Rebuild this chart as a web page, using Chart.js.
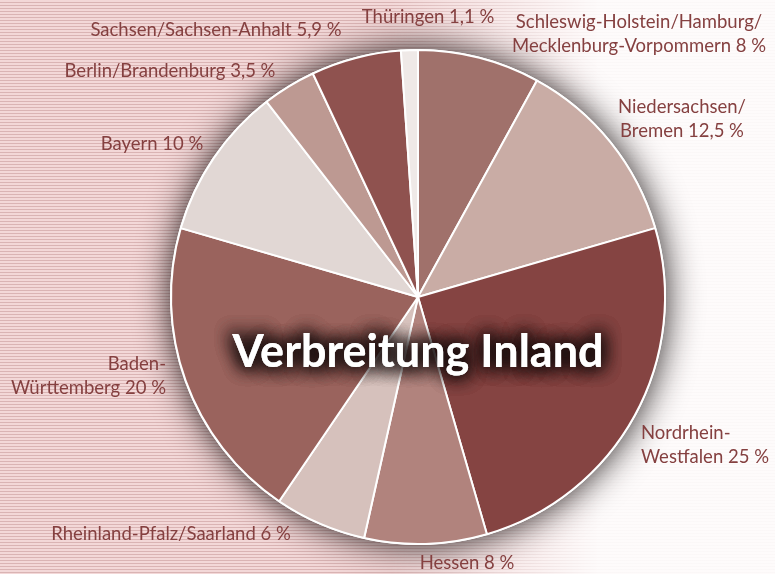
<!DOCTYPE html>
<html>
<head>
<meta charset="utf-8">
<script src="https://cdn.jsdelivr.net/npm/chart.js@4.4.0/dist/chart.umd.min.js"></script>
<style>
  html, body { margin: 0; padding: 0; background: #fff; }
  canvas { display: block; }
</style>
</head>
<body>
<canvas id="inlandChart" width="775" height="574"></canvas>
<script>
// Verbreitung Inland - share per region (percent)
var regions = [
    'Schleswig-Holstein/Hamburg/Mecklenburg-Vorpommern',
    'Niedersachsen/Bremen',
    'Nordrhein-Westfalen',
    'Hessen',
    'Rheinland-Pfalz/Saarland',
    'Baden-Württemberg',
    'Bayern',
    'Berlin/Brandenburg',
    'Sachsen/Sachsen-Anhalt',
    'Thüringen'
];
var shares = [8, 12.5, 25, 8, 6, 20, 10, 3.5, 5.9, 1.1];
var sliceColors = ['#a0716b', '#c9aca5', '#854442', '#b1837d', '#d6c1bc',
                   '#9a635d', '#e1d7d4', '#bd9992', '#8f524f', '#efe9e7'];

// label text lines, as printed in the chart
var labelLines = [
    ['Schleswig-Holstein/Hamburg/', 'Mecklenburg-Vorpommern 8 %'],
    ['Niedersachsen/', 'Bremen 12,5 %'],
    ['Nordrhein-', 'Westfalen 25 %'],
    ['Hessen 8 %'],
    ['Rheinland-Pfalz/Saarland 6 %'],
    ['Baden-', 'Württemberg 20 %'],
    ['Bayern 10 %'],
    ['Berlin/Brandenburg 3,5 %'],
    ['Sachsen/Sachsen-Anhalt 5,9 %'],
    ['Thüringen 1,1 %']
];
// label anchor (x, y of first line) and alignment
var labelPlace = [
    [639, 22, 'center'], [682, 107, 'center'], [641, 433, 'left'],
    [467, 563, 'center'], [171, 534, 'center'], [166, 364, 'right'],
    [152, 144, 'center'], [170, 71, 'center'], [216, 30, 'center'],
    [428, 17, 'center']
];

var textColor = '#854040';
var labelFont = '18.5px Lato';

var backgroundPlugin = {
    id: 'stripes',
    beforeDraw: function (chart) {
        var ctx = chart.ctx;
        var w = chart.width, h = chart.height;
        ctx.save();
        for (var y = 0; y < h; y++) {
            ctx.fillStyle = (y % 3 === 2) ? '#dab4b4' : '#f3d8d8';
            ctx.fillRect(0, y, w, 1);
        }
        var g = ctx.createLinearGradient(390, 0, 600, 0);
        g.addColorStop(0, 'rgba(255,255,255,0)');
        g.addColorStop(1, 'rgba(255,255,255,0.9)');
        ctx.fillStyle = g;
        ctx.fillRect(0, 0, w, h);
        ctx.restore();
    },
    beforeDatasetsDraw: function (chart) {
        var arc = chart.getDatasetMeta(0).data[0];
        if (!arc) return;
        var ctx = chart.ctx;
        ctx.save();
        ctx.shadowColor = 'rgba(30,22,22,0.95)';
        ctx.shadowBlur = 34;
        ctx.fillStyle = '#ffffff';
        ctx.beginPath();
        ctx.arc(arc.x, arc.y, arc.outerRadius + 1, 0, Math.PI * 2);
        ctx.fill();
        ctx.restore();
    },
    afterDraw: function (chart) {
        var ctx = chart.ctx;
        ctx.save();
        ctx.font = labelFont;
        ctx.fillStyle = textColor;
        ctx.textBaseline = 'middle';
        labelLines.forEach(function (lines, i) {
            var p = labelPlace[i];
            ctx.textAlign = p[2];
            lines.forEach(function (line, j) {
                ctx.fillText(line, p[0], p[1] + j * 24);
            });
        });
        // title in the middle
        var arc = chart.getDatasetMeta(0).data[0];
        ctx.font = 'bold 45px Lato';
        ctx.textAlign = 'center';
        ctx.shadowColor = 'rgba(25,15,15,1)';
        ctx.shadowBlur = 18;
        ctx.fillStyle = '#ffffff';
        for (var k = 0; k < 4; k++) {
            ctx.fillText('Verbreitung Inland', arc.x, 352);
        }
        ctx.restore();
    }
};

var ctx = document.getElementById('inlandChart').getContext('2d');
new Chart(ctx, {
    type: 'pie',
    data: {
        labels: regions,
        datasets: [{
            data: shares,
            backgroundColor: sliceColors,
            borderColor: '#ffffff',
            borderWidth: 2
        }]
    },
    options: {
        responsive: false,
        animation: false,
        radius: 247,
        layout: { padding: { left: 171, right: 110, top: 50, bottom: 30 } },
        plugins: {
            legend: { display: false },
            tooltip: { enabled: false }
        }
    },
    plugins: [backgroundPlugin]
});
</script>
</body>
</html>
